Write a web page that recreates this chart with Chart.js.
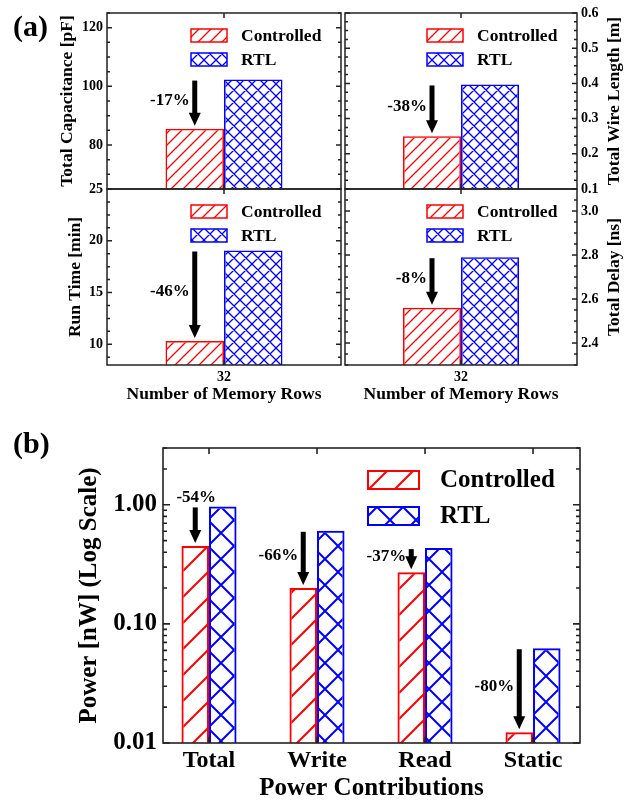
<!DOCTYPE html>
<html><head><meta charset="utf-8">
<script src="https://cdn.jsdelivr.net/npm/chart.js@4.4.1/dist/chart.umd.min.js"></script>
<style>
html,body{margin:0;padding:0;background:#fff;}
#wrap{position:relative;width:633px;height:804px;overflow:hidden;background:#fff;}
canvas{position:absolute;left:0;top:0;}
.tag{position:absolute;font-family:'Liberation Serif','Times New Roman',serif;font-weight:bold;font-size:30px;line-height:30px;color:#000;}
</style></head>
<body><div id="wrap">
<canvas id="c1" width="633" height="804"></canvas>
<canvas id="c2" width="633" height="804"></canvas>
<canvas id="c3" width="633" height="804"></canvas>
<canvas id="c4" width="633" height="804"></canvas>
<canvas id="c5" width="633" height="804"></canvas>
<div class="tag" style="left:13px;top:11px">(a)</div>
<div class="tag" style="left:13px;top:428px">(b)</div>
</div>
<script>
// ---------------- data ----------------
const seriesNames = ['Controlled', 'RTL'];
const rowCategories = ['32'];

const capacitanceControlled = [85.5];
const capacitanceRTL = [102.3];
const capacitanceTicks = [80, 100, 120];
const capacitanceDrop = ['-17%'];

const wireControlled = [0.25];
const wireRTL = [0.397];
const wireTicks = [0.1, 0.2, 0.3, 0.4, 0.5, 0.6];
const wireDrop = ['-38%'];

const runControlled = [10.33];
const runRTL = [19.06];
const runTicks = [10, 15, 20, 25];
const runDrop = ['-46%'];

const delayControlled = [2.56];
const delayRTL = [2.79];
const delayTicks = [2.4, 2.6, 2.8, 3.0];
const delayDrop = ['-8%'];

const powerCategories = ['Total', 'Write', 'Read', 'Static'];
const powerControlled = [0.452, 0.20, 0.272, 0.0123];
const powerRTL = [0.97, 0.605, 0.433, 0.0625];
const powerTicks = [0.01, 0.1, 1];
const powerDrop = ['-54%', '-66%', '-37%', '-80%'];
const powerDropPlace = ['top', 'left', 'left', 'left'];

// ---------------- styles ----------------
const FONT = "'Liberation Serif','Times New Roman',Times,serif";
const RED = '#ff0000', BLUE = '#0000ff', AXIS = '#222';

function hatch(canvasId, color, size, lw, cross) {
  const c = document.createElement('canvas'); c.width = size; c.height = size;
  const g = c.getContext('2d'); g.strokeStyle = color; g.lineWidth = lw; g.beginPath();
  g.moveTo(0, size); g.lineTo(size, 0);
  g.moveTo(-3, 3); g.lineTo(3, -3);
  g.moveTo(size - 3, size + 3); g.lineTo(size + 3, size - 3);
  if (cross) {
    g.moveTo(0, 0); g.lineTo(size, size);
    g.moveTo(-3, size - 3); g.lineTo(3, size + 3);
    g.moveTo(size - 3, -3); g.lineTo(size + 3, 3);
  }
  g.stroke();
  return document.getElementById(canvasId).getContext('2d').createPattern(c, 'repeat');
}

function steps(min, max, step) {
  const out = []; const k0 = Math.ceil(min / step - 1e-9); const k1 = Math.floor(max / step + 1e-9);
  for (let k = k0; k <= k1; k++) out.push(Math.round(k * step * 1e6) / 1e6);
  return out;
}

// ---------------- plugins ----------------
const framePlugin = { id: 'frame', afterDatasetsDraw(chart, args, o) {
  const ctx = chart.ctx, ca = chart.chartArea, ys = chart.scales.y, xs = chart.scales.x;
  ctx.save(); ctx.strokeStyle = AXIS; ctx.lineWidth = o.lw; ctx.beginPath();
  const tick = (v, len) => {
    const p = ys.getPixelForValue(v);
    if (p < ca.top - 0.5 || p > ca.bottom + 0.5) return;
    if (o.left) { ctx.moveTo(ca.left, p); ctx.lineTo(ca.left + len, p); }
    if (o.right) { ctx.moveTo(ca.right, p); ctx.lineTo(ca.right - len, p); }
  };
  o.minors.forEach(v => tick(v, o.minorLen));
  o.majors.forEach(v => tick(v, o.majorLen));
  chart.data.labels.forEach((l, i) => {
    const p = xs.getPixelForValue(i);
    ctx.moveTo(p, ca.top); ctx.lineTo(p, ca.top + o.xLen);
    ctx.moveTo(p, ca.bottom); ctx.lineTo(p, ca.bottom - o.xLen);
  });
  ctx.stroke();
  ctx.strokeRect(ca.left, ca.top, ca.right - ca.left, ca.bottom - ca.top);
  ctx.restore();
}};

const legendPlugin = { id: 'patLegend', afterDatasetsDraw(chart, args, o) {
  const ctx = chart.ctx, ca = chart.chartArea;
  chart.data.datasets.forEach((ds, i) => {
    const bx = ca.right - o.fromRight, by = ca.top + o.fromTop + i * o.rowH;
    ctx.save();
    ctx.fillStyle = ds.backgroundColor; ctx.fillRect(bx, by, o.boxW, o.boxH);
    ctx.strokeStyle = ds.borderColor; ctx.lineWidth = o.lw; ctx.strokeRect(bx, by, o.boxW, o.boxH);
    ctx.fillStyle = '#000'; ctx.font = 'bold ' + o.size + 'px ' + FONT;
    ctx.textAlign = 'left'; ctx.textBaseline = 'middle';
    ctx.fillText(ds.label, bx + o.textGap, by + o.boxH / 2 + 1);
    ctx.restore();
  });
}};

const arrowPlugin = { id: 'drops', afterDatasetsDraw(chart, args, o) {
  const ctx = chart.ctx;
  const m0 = chart.getDatasetMeta(0).data, m1 = chart.getDatasetMeta(1).data;
  o.texts.forEach((txt, i) => {
    const x = m0[i].x, yTop = m1[i].y + 1, yTip = m0[i].y - 3;
    ctx.save(); ctx.fillStyle = '#000';
    ctx.fillRect(x - 2.5, yTop, 5, (yTip - 13) - yTop + 1);
    ctx.beginPath(); ctx.moveTo(x - 6, yTip - 13); ctx.lineTo(x + 6, yTip - 13); ctx.lineTo(x, yTip); ctx.closePath(); ctx.fill();
    ctx.font = 'bold ' + o.size + 'px ' + FONT; ctx.textBaseline = 'middle';
    const place = (o.places && o.places[i]) || 'left';
    if (place === 'top') { ctx.textAlign = 'center'; ctx.fillText(txt, x + 1, yTop - 10); }
    else { ctx.textAlign = 'right'; ctx.fillText(txt, x - 5, (yTop + yTip) / 2 - 3); }
    ctx.restore();
  });
}};

const sideTitlePlugin = { id: 'sideTitle', afterDraw(chart, args, o) {
  if (!o.text) return;
  const ctx = chart.ctx, ca = chart.chartArea, ys = chart.scales.y;
  ctx.save(); ctx.translate(ys.right - o.offset, (ca.top + ca.bottom) / 2); ctx.rotate(-Math.PI / 2);
  ctx.font = 'bold ' + o.size + 'px ' + FONT; ctx.fillStyle = '#000';
  ctx.textAlign = 'center'; ctx.textBaseline = 'middle'; ctx.fillText(o.text, 0, 0);
  ctx.restore();
}};

Chart.defaults.font.family = FONT;
Chart.defaults.color = '#000';

// ---------------- panel (a) ----------------
const panels = [
  { id: 'c1', ctrl: capacitanceControlled, rtl: capacitanceRTL, min: 65, max: 125, ticks: capacitanceTicks, dec: 0, minor: 5,
    pos: 'left', title: 'Total Capacitance [pF]', drop: capacitanceDrop, pad: { left: 57, right: 292, top: 13, bottom: 615 }, yW: 50, showX: false },
  { id: 'c2', ctrl: wireControlled, rtl: wireRTL, min: 0.1, max: 0.6, ticks: wireTicks, dec: 1, minor: 0.025,
    pos: 'right', title: 'Total Wire Length [m]', drop: wireDrop, pad: { left: 345, right: 0, top: 13, bottom: 615 }, yW: 56, showX: false },
  { id: 'c3', ctrl: runControlled, rtl: runRTL, min: 8, max: 25, ticks: runTicks, dec: 0, minor: 1.25,
    pos: 'left', title: 'Run Time [min]', drop: runDrop, pad: { left: 64.5, right: 292, top: 189, bottom: 399.5 }, yW: 42.5, showX: true },
  { id: 'c4', ctrl: delayControlled, rtl: delayRTL, min: 2.3, max: 3.1, ticks: delayTicks, dec: 1, minor: 0.05,
    pos: 'right', title: 'Total Delay [ns]', drop: delayDrop, pad: { left: 345, right: 0, top: 189, bottom: 399.5 }, yW: 56, showX: true }
];

panels.forEach(p => {
  const ctrlPat = hatch(p.id, RED, 12, 1.3, false);
  const rtlPat = hatch(p.id, BLUE, 12, 1.3, true);
  const xScale = {
    type: 'category', offset: true, display: p.showX,
    grid: { display: false, drawTicks: false }, border: { display: false },
    ticks: { font: { size: 14, weight: 'bold' }, color: '#000', padding: 3.6, maxRotation: 0 },
    title: { display: true, text: 'Number of Memory Rows', font: { size: 17.5, weight: 'bold' }, color: '#000', padding: 0 }
  };
  if (p.showX) xScale.afterFit = s => { s.height = 39.5; };
  new Chart(document.getElementById(p.id), {
    type: 'bar',
    data: { labels: rowCategories, datasets: [
      { label: seriesNames[0], data: p.ctrl, backgroundColor: ctrlPat, borderColor: RED, borderWidth: 1.5, categoryPercentage: 0.5, barPercentage: 1 },
      { label: seriesNames[1], data: p.rtl, backgroundColor: rtlPat, borderColor: BLUE, borderWidth: 1.5, categoryPercentage: 0.5, barPercentage: 1 }
    ]},
    options: {
      responsive: false, animation: false, events: [],
      layout: { padding: p.pad },
      plugins: {
        legend: { display: false }, tooltip: { enabled: false },
        frame: { lw: 1.5, majors: p.ticks, minors: steps(p.min, p.max, p.minor), majorLen: 5, minorLen: 3, xLen: 5, left: true, right: true },
        patLegend: { fromRight: 150, fromTop: 16, boxW: 36, boxH: 13, rowH: 24, textGap: 50, size: 17.5, lw: 1.5 },
        drops: { texts: p.drop, size: 17 },
        sideTitle: { text: p.pos === 'right' ? p.title : '', offset: 18.5, size: 17.5 }
      },
      scales: {
        x: xScale,
        y: {
          type: 'linear', position: p.pos, min: p.min, max: p.max,
          afterBuildTicks: s => { s.ticks = p.ticks.map(v => ({ value: v })); },
          afterFit: s => { s.width = p.yW; },
          grid: { display: false, drawTicks: false }, border: { display: false },
          ticks: { autoSkip: false, font: { size: 14, weight: 'bold' }, color: '#000', padding: 4,
                   callback: v => Number(v).toFixed(p.dec) },
          title: { display: p.pos === 'left', text: p.title, font: { size: 17.5, weight: 'bold' }, color: '#000', padding: 0 }
        }
      }
    },
    plugins: [framePlugin, legendPlugin, arrowPlugin, sideTitlePlugin]
  });
});

// ---------------- panel (b) ----------------
(function () {
  const ctrlPat = hatch('c5', RED, 26, 2, false);
  const rtlPat = hatch('c5', BLUE, 26, 2, true);
  const logMinors = [];
  [0.01, 0.1, 1].forEach(d => { for (let k = 2; k <= 9; k++) if (d * k <= 3) logMinors.push(d * k); });
  new Chart(document.getElementById('c5'), {
    type: 'bar',
    data: { labels: powerCategories, datasets: [
      { label: seriesNames[0], data: powerControlled.map((v, i) => ({ x: i, y: v })), backgroundColor: ctrlPat, borderColor: RED, borderWidth: 2, categoryPercentage: 0.51, barPercentage: 1 },
      { label: seriesNames[1], data: powerRTL.map((v, i) => ({ x: i, y: v })), backgroundColor: rtlPat, borderColor: BLUE, borderWidth: 2, categoryPercentage: 0.51, barPercentage: 1 }
    ]},
    options: {
      responsive: false, animation: false, events: [],
      layout: { padding: { left: 75, right: 53, top: 448, bottom: 0 } },
      plugins: {
        legend: { display: false }, tooltip: { enabled: false },
        frame: { lw: 1.6, majors: powerTicks, minors: logMinors, majorLen: 7, minorLen: 4, xLen: 6, left: true, right: true },
        patLegend: { fromRight: 212, fromTop: 23, boxW: 51, boxH: 18, rowH: 36, textGap: 72, size: 25, lw: 2 },
        drops: { texts: powerDrop, places: powerDropPlace, size: 17 },
        sideTitle: { text: '' }
      },
      scales: {
        x: {
          type: 'linear', offset: false, min: -0.426, max: 3.435,
          afterBuildTicks: s => { s.ticks = powerCategories.map((c, i) => ({ value: i })); },
          afterFit: s => { s.height = 61; },
          grid: { display: false, drawTicks: false }, border: { display: false },
          ticks: { autoSkip: false, maxRotation: 0, font: { size: 24, weight: 'bold' }, color: '#000', padding: 3,
                   callback: v => powerCategories[v] },
          title: { display: true, text: 'Power Contributions', font: { size: 25, weight: 'bold' }, color: '#000', padding: 0 }
        },
        y: {
          type: 'logarithmic', position: 'left', min: 0.01, max: 3,
          afterBuildTicks: s => { s.ticks = powerTicks.map(v => ({ value: v })); },
          afterFit: s => { s.width = 88; },
          grid: { display: false, drawTicks: false }, border: { display: false },
          ticks: { autoSkip: false, font: { size: 25, weight: 'bold' }, color: '#000', padding: 6,
                   callback: v => Number(v).toFixed(2) },
          title: { display: true, text: 'Power [nW] (Log Scale)', font: { size: 25, weight: 'bold' }, color: '#000', padding: 0 }
        }
      }
    },
    plugins: [framePlugin, legendPlugin, arrowPlugin, sideTitlePlugin]
  });
})();
</script>
</body></html>
